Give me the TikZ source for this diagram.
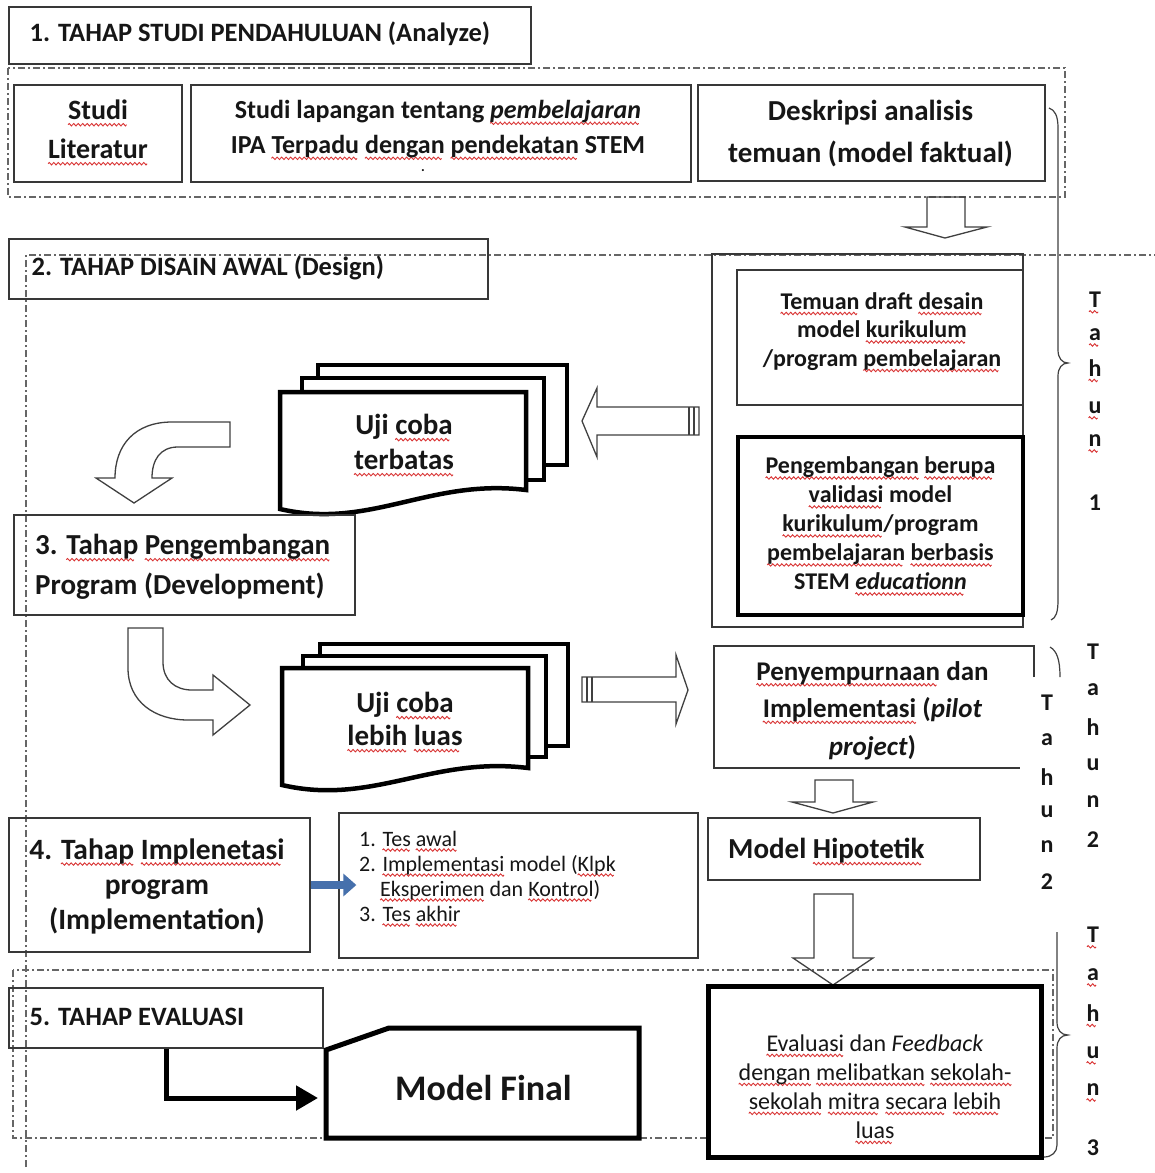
\documentclass[tikz,border=0pt]{standalone}
\usepackage{fontspec}
\setmainfont{Carlito}
\usetikzlibrary{arrows.meta}
\definecolor{ink}{RGB}{22,22,22}
\definecolor{arrblue}{RGB}{70,112,172}
\newcommand\wavemark{\hbox to 4.5pt{\special{pdf:literal q 0.85 0.2 0.2 RG 0.9 w 0 0 m 1.1 1.6 1.1 1.6 2.25 0 c 3.4 -1.6 3.4 -1.6 4.5 0 c S Q}\hss}}
\newlength\sqw
\newcommand\sq[1]{\settowidth\sqw{#1}\leavevmode\rlap{\lower0.17em\hbox to\sqw{\leaders\wavemark\hfill}}#1}
\newcommand\fsz[2]{\fontsize{#1}{#2}\selectfont}
\begin{document}
\begin{tikzpicture}[x=1pt,y=-1pt,
  tbox/.style={draw=black!78, line width=1.3pt, inner sep=0pt},
  kbox/.style={draw=black, line width=4.5pt, inner sep=0pt},
  region/.style={draw=black!60, line width=1.1pt, dash pattern=on 7pt off 3pt on 2pt off 3pt},
  barrow/.style={draw=black!75, line width=1.3pt, line join=miter},
  thinline/.style={draw=black!75, line width=1.2pt},
  docsh/.style={draw=black, line width=4.5pt, fill=white, line join=miter},
  txt/.style={inner sep=0pt, align=center, text=ink},
  ftitle/.style={font=\fsz{26.5}{32}\bfseries},
  tahun/.style={txt, font=\fsz{24}{24}\bfseries}]
\useasboundingbox[fill=white] (0,0) rectangle (1155,1173);

% regions
\draw[region] (8,68) rectangle (1065,197);
\draw[region] (26,1167) -- (26,255) -- (1155,255);
\draw[region] (13,970) rectangle (1053,1138);

% stage 1
\node[tbox, minimum width=522pt, minimum height=57pt] (t1) at (270,35.5) {};
\node[txt, ftitle, anchor=west] (t1txt) at (29.5,34) {1. TAHAP STUDI PENDAHULUAN (Analyze)};
\node[tbox, minimum width=168pt, minimum height=97pt] (lit) at (98,133.5) {};
\node[txt, font=\fsz{28}{39}\bfseries] (littxt) at (98,132) {\sq{Studi}\\\sq{Literatur}};
\node[tbox, minimum width=500pt, minimum height=97pt] (lap) at (441,133.5) {};
\node[txt, font=\fsz{26}{35}\bfseries] (laptxt) at (438,129.5) {Studi lapangan tentang \sq{\textit{pembelajaran}}\\IPA \sq{Terpadu} \sq{dengan} \sq{pendekatan} STEM};
\node[txt, font=\fsz{14}{14}\bfseries] (lapdot) at (423,171) {.};
\node[tbox, minimum width=347pt, minimum height=96pt] (desk) at (871.5,133) {};
\node[txt, font=\fsz{29}{42}\bfseries] (desktxt) at (870.5,134) {Deskripsi analisis\\temuan (model faktual)};
\draw[barrow] (927,197) -- (927,227) -- (905,227) -- (945,238) -- (987,227) -- (965,227) -- (965,197) -- cycle;

% stage 2
\node[tbox, minimum width=479pt, minimum height=60pt] (t2) at (248.5,269) {};
\node[txt, ftitle, anchor=west] (t2txt) at (31.5,268) {2. TAHAP DISAIN AWAL (Design)};
\node[tbox, minimum width=311pt, minimum height=373pt] (big) at (867.5,440.5) {};
\node[tbox, minimum width=286pt, minimum height=135pt] (tem) at (880,337.5) {};
\node[txt, font=\fsz{24}{28.5}\bfseries] (temtxt) at (882,331.5) {\sq{Temuan} draft \sq{desain}\\model \sq{kurikulum}\\/program \sq{pembelajaran}};
\node[kbox, minimum width=285pt, minimum height=178pt] (peng) at (880.5,526) {};
\node[txt, font=\fsz{24}{29}\bfseries] (pengtxt) at (880.5,525.5) {\sq{Pengembangan} \sq{berupa}\\\sq{validasi} model\\\sq{kurikulum}/program\\\sq{pembelajaran} \sq{berbasis}\\STEM \sq{\textit{educationn}}};
\draw[barrow] (699,407) -- (597,407) -- (597,388) -- (582,421) -- (597,457) -- (597,435) -- (699,435) -- cycle;
\draw[barrow] (689,407) -- (689,435) (694,407) -- (694,435);

% uji coba terbatas
\draw[docsh] (318,365) rectangle (567,465);
\draw[docsh] (302,378) rectangle (544,480);
\draw[docsh] (280,392) -- (526,392) -- (526,490) .. controls (430,478) and (370,530) .. (280,509) -- cycle;
\node[txt, font=\fsz{29}{35}\bfseries] (ujit) at (404,444.5) {Uji \sq{coba}\\\sq{terbatas}};
\draw[barrow] (230,422) -- (172,422) .. controls (135,422) and (115,445) .. (115,478) -- (96,478) -- (134,503) -- (172,478) -- (152,478) .. controls (152,460) and (160,447) .. (178,447) -- (230,447) -- cycle;

% stage 3
\node[tbox, minimum width=341pt, minimum height=100pt] (b3) at (184.5,565) {};
\node[txt, align=left, anchor=west, font=\fsz{29}{40}\bfseries] (b3txt) at (35,567) {3. \sq{Tahap} \sq{Pengembangan}\\Program (Development)};
\draw[barrow] (128,628) -- (128,668) .. controls (128,702) and (155,720) .. (188,720) -- (213,720) -- (213,735) -- (250,705) -- (213,675) -- (213,690) -- (192,690) .. controls (175,690) and (163,680) .. (163,662) -- (163,628) -- cycle;

% uji coba lebih luas
\draw[docsh] (320,644) rectangle (568,746);
\draw[docsh] (303,656) rectangle (546,757);
\draw[docsh] (282,668) -- (528,668) -- (528,768) .. controls (432,756) and (372,806) .. (282,785) -- cycle;
\node[txt, font=\fsz{29}{33}\bfseries] (ujil) at (405,721.5) {Uji \sq{coba}\\\sq{lebih} \sq{luas}};
\draw[barrow] (582,677) -- (676,677) -- (676,655) -- (688,690) -- (676,724) -- (676,702) -- (582,702) -- cycle;
\draw[barrow] (587,677) -- (587,702) (592,677) -- (592,702);

% penyempurnaan
\node[inner sep=0pt, minimum width=320pt, minimum height=122pt] (pen) at (874,707) {};
\draw[tbox] (1034,677) -- (1034,646) -- (714,646) -- (714,768) -- (1020,768);
\node[txt, font=\fsz{27}{37.5}\bfseries] (pentxt) at (872.5,710.5) {\sq{Penyempurnaan} dan\\\sq{Implementasi} (\textit{pilot}\\\textit{project})};
\draw[thinline] (1050,647) .. controls (1057,651) and (1060,660) .. (1060,677);
\draw[barrow] (815,780) -- (815,802) -- (792,802) -- (833,813) -- (873,802) -- (853,802) -- (853,780) -- cycle;

% model hipotetik
\node[tbox, minimum width=272pt, minimum height=62pt] (hip) at (844,849) {};
\node[txt, anchor=west, font=\fsz{29}{34}\bfseries] (hiptxt) at (728,851) {Model \sq{Hipotetik}};
\draw[barrow] (814,894) -- (814,958) -- (793,958) -- (833,985) -- (873,958) -- (853,958) -- (853,894) -- cycle;

% stage 4
\node[tbox, minimum width=301pt, minimum height=134pt] (b4) at (159.5,885) {};
\node[txt, font=\fsz{29.5}{35}\bfseries] (b4txt) at (157,886) {4. \sq{Tahap} \sq{Implenetasi}\\program\\(Implementation)};
\node[tbox, minimum width=359pt, minimum height=145pt] (list) at (518.5,885.5) {};
\node[txt, align=left, anchor=west, font=\fsz{22}{25}] (listtxt) at (359,878) {1. \sq{Tes} \sq{awal}\\2. \sq{Implementasi} model (\sq{Klpk}\\\hspace*{21pt}\sq{Eksperimen} dan \sq{Kontrol})\\3. \sq{Tes} \sq{akhir}};
\draw[line width=8pt, arrblue, -{Triangle[length=13pt,width=22pt]}] (b4.east) -- ([xshift=18pt]b4.east -| list.west);

% stage 5
\node[tbox, minimum width=314pt, minimum height=60pt] (t5) at (166,1018) {};
\node[txt, ftitle, anchor=west] (t5txt) at (29.5,1017) {5. TAHAP EVALUASI};
\draw[line width=5pt, line join=miter, fill=white] (326,1050) -- (389,1028) -- (639,1028) -- (639,1138) -- (326,1138) -- cycle;
\node[txt, font=\fsz{36}{40}\bfseries] (mf) at (483.5,1088) {Model Final};
\coordinate (mfin) at (318,1098);
\draw[line width=5pt, -{Triangle[length=22pt,width=24pt]}] (t5.south) |- (mfin);
\node[kbox, line width=5pt, minimum width=333pt, minimum height=171pt, fill=white] (eval) at (874.5,1071.5) {};
\node[txt, font=\fsz{24}{29}] (evaltxt) at (875,1088.5) {\sq{Evaluasi} dan \textit{Feedback}\\\sq{dengan} \sq{melibatkan} \sq{sekolah-}\\\sq{sekolah} \sq{mitra} \sq{secara} \sq{lebih}\\\sq{luas}};

% braces
\draw[thinline] (1049,108) .. controls (1055,110) and (1058,116) .. (1058,128) -- (1058,350) .. controls (1058,358) and (1062,363) .. (1068,363) .. controls (1062,363) and (1058,368) .. (1058,376) -- (1058,600) .. controls (1058,612) and (1056,618) .. (1051,620);
\draw[thinline] (1057,932) -- (1057,1022) .. controls (1057,1030) and (1061,1035) .. (1068,1035) .. controls (1061,1035) and (1057,1040) .. (1057,1048) -- (1057,1145) .. controls (1057,1152) and (1052,1157) .. (1044,1157);

% Tahun labels
\foreach \ch/\yy [count=\i] in {T/302,a/337,h/370,u/410,n/443}
  \node[tahun] (ta\i) at (1095,\yy) {\sq{\ch}};
\node[tahun] (ta6) at (1095,503) {1};
\foreach \ch/\yy [count=\i] in {T/652,a/690,h/727,u/765,n/802,2/840}
  \node[tahun] (tb\i) at (1093,\yy) {\ch};
\foreach \ch/\yy [count=\i] in {T/703,a/740,h/777,u/812,n/847,2/882}
  \node[tahun] (tc\i) at (1047,\yy) {\ch};
\foreach \ch/\yy [count=\i] in {T/937,a/977,h/1015,u/1055,n/1092}
  \node[tahun] (td\i) at (1093,\yy) {\sq{\ch}};
\node[tahun] (td6) at (1093,1148) {3};
\end{tikzpicture}
\end{document}
